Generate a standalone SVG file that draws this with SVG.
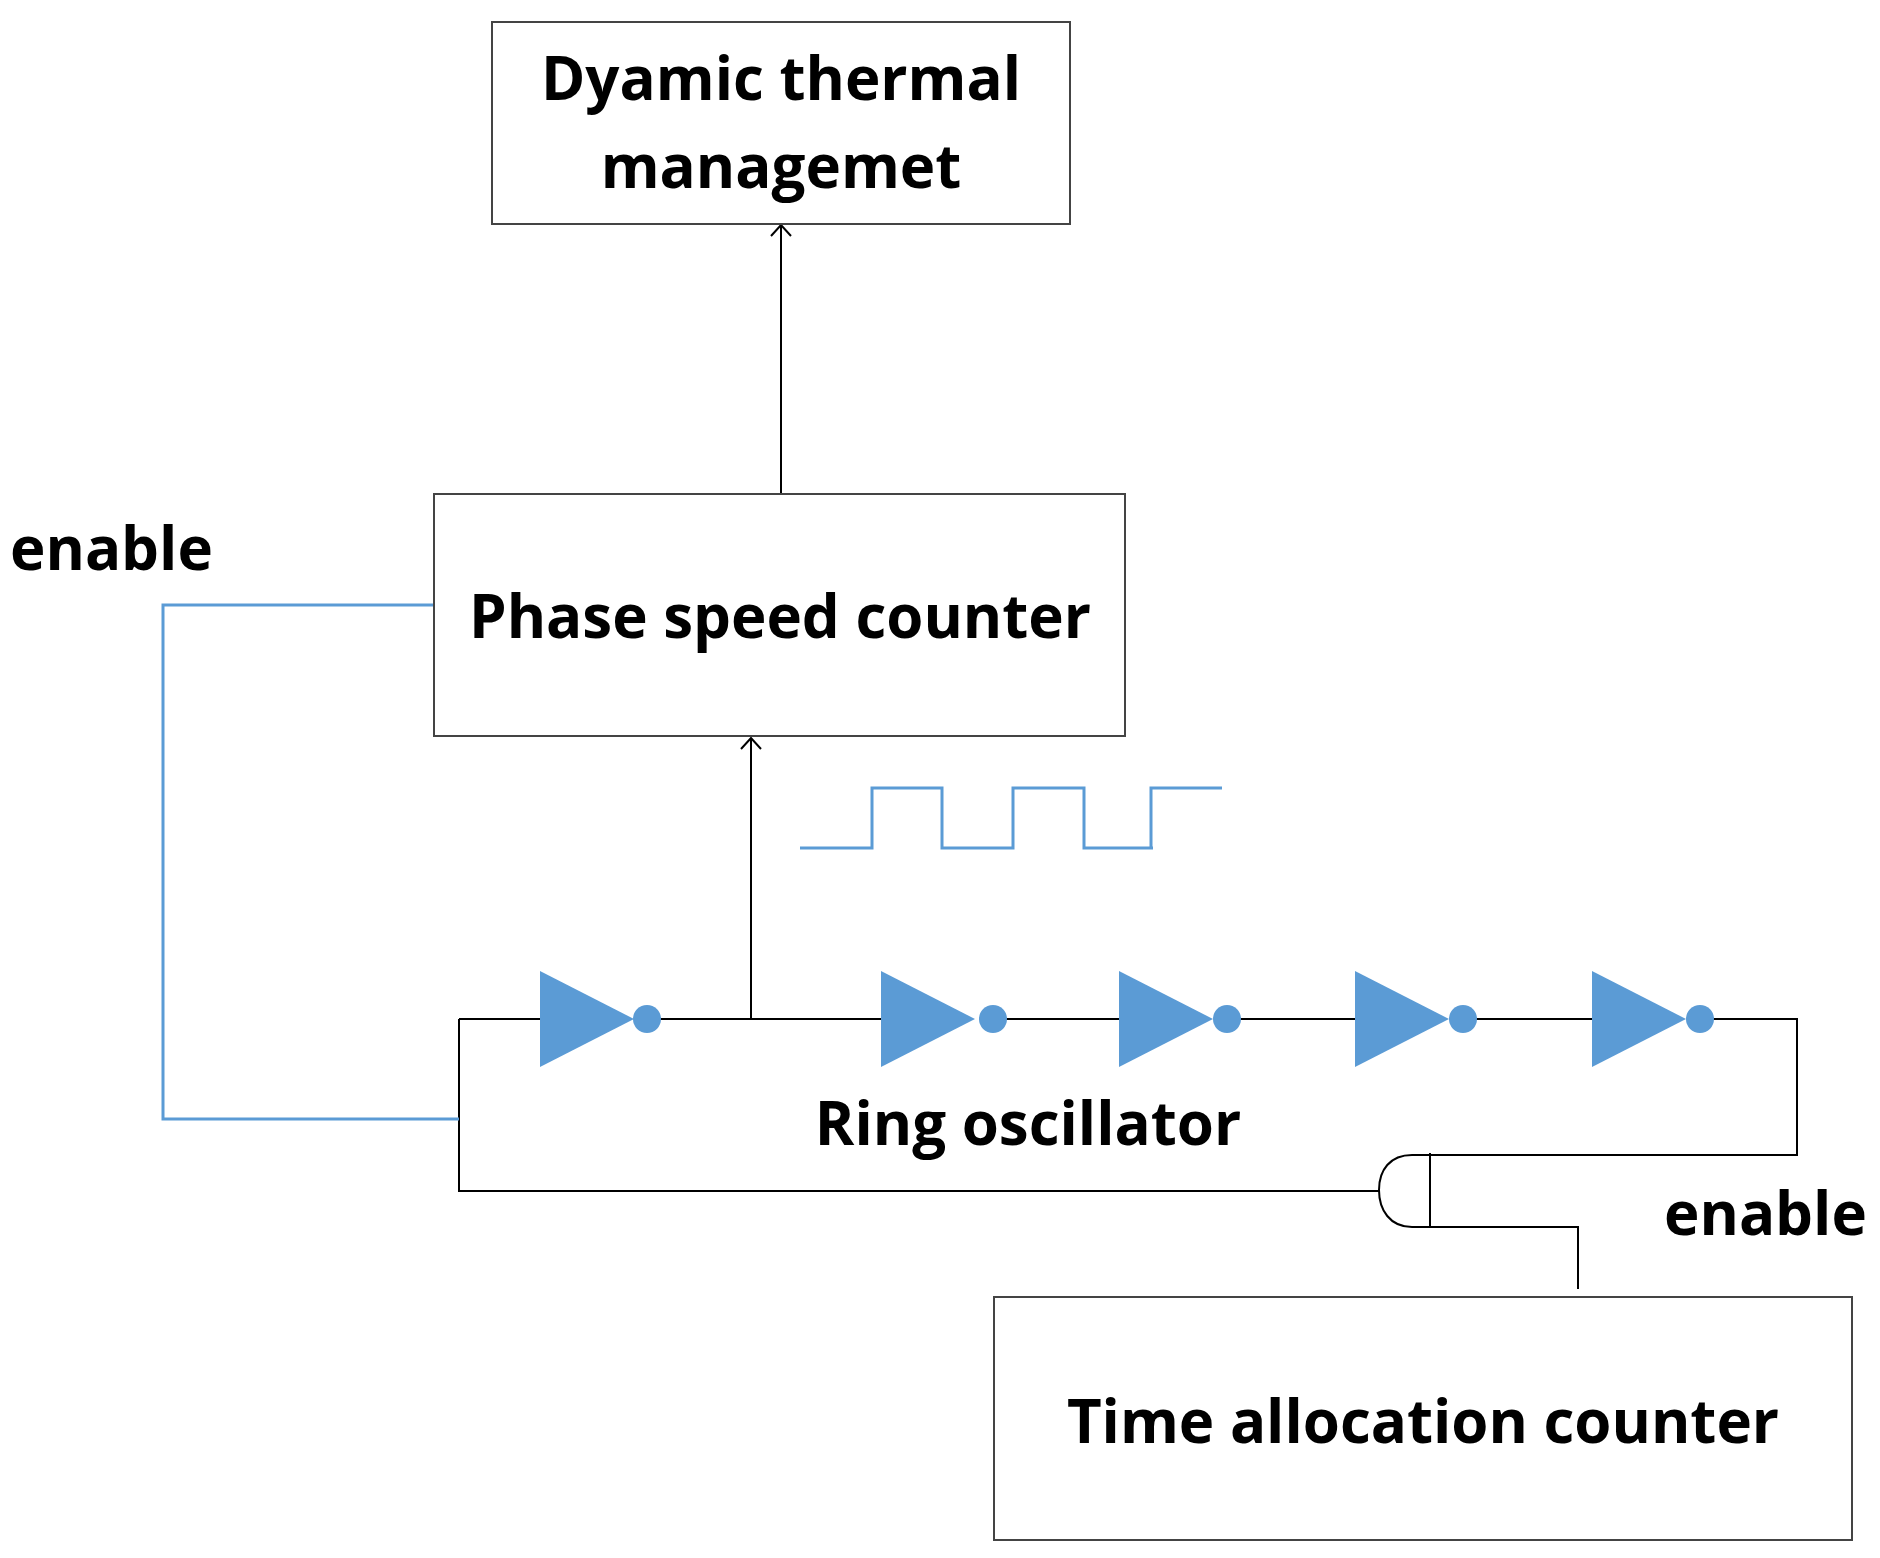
<svg xmlns="http://www.w3.org/2000/svg" width="1880" height="1558" viewBox="0 0 1880 1558">
<style>
.box{fill:#fff;stroke:#444;stroke-width:2}
.t{font-family:"Open Sans","Liberation Sans",sans-serif;font-weight:bold;font-size:60px;fill:#000}
.w{fill:none;stroke:#000;stroke-width:2}
.b{fill:none;stroke:#5b9bd5;stroke-width:3}
.inv{fill:#5b9bd5}
</style>
<defs><marker id="a" viewBox="0 0 20 20" refX="10" refY="2" markerWidth="20" markerHeight="20" markerUnits="userSpaceOnUse" orient="auto-start-reverse"><path d="M2,12 L10,2 L18,12" fill="none" stroke="#000" stroke-width="2"/></marker></defs>
<rect width="1880" height="1558" fill="#fff"/>
<g id="connectors">
<path class="w" d="M781,494 V226" marker-end="url(#a)" style="marker-end:none"/>
<path class="w" d="M781,494 V226"/>
<path class="w" d="M771,236 L781,225 L791,236"/>
<path class="w" d="M751,1019 V738"/>
<path class="w" d="M741,749 L751,738 L761,749"/>
<path class="w" d="M459,1019 H540 M459,1019 V1191 H1379"/>
<path class="w" d="M647,1019 H881 M993,1019 H1119 M1227,1019 H1355 M1463,1019 H1592 M1700,1019 H1797 V1155 H1430"/>
<path class="w" d="M1430,1227 H1578 V1289"/>
<path class="b" d="M434,605 H163 V1119 H459"/>
<path class="b" d="M800,848 H872 V788 H942 V848 H1013 V788 H1084 V848 H1153 M1151,848 V788 H1222"/>
</g>
<g id="dtm"><rect class="box" x="492" y="22" width="578" height="202"/>
<text class="t" x="781" y="100" text-anchor="middle">Dyamic thermal</text>
<text class="t" x="781" y="188" text-anchor="middle">managemet</text></g>
<g id="psc"><rect class="box" x="434" y="494" width="691" height="242"/>
<text class="t" x="780" y="638" text-anchor="middle">Phase speed counter</text></g>
<g id="enable1"><text class="t" x="10" y="570">enable</text></g>
<g id="ring">
<path class="inv" d="M540,971 L634,1019 L540,1067Z"/><circle class="inv" cx="647" cy="1019" r="14"/>
<path class="inv" d="M881,971 L975,1019 L881,1067Z"/><circle class="inv" cx="993" cy="1019" r="14"/>
<path class="inv" d="M1119,971 L1213,1019 L1119,1067Z"/><circle class="inv" cx="1227" cy="1019" r="14"/>
<path class="inv" d="M1355,971 L1449,1019 L1355,1067Z"/><circle class="inv" cx="1463" cy="1019" r="14"/>
<path class="inv" d="M1592,971 L1686,1019 L1592,1067Z"/><circle class="inv" cx="1700" cy="1019" r="14"/>
<text class="t" x="1028" y="1145" text-anchor="middle">Ring oscillator</text>
</g>
<g id="gate"><path class="w" d="M1430,1153 V1227 H1412 C1390,1227 1379,1210 1379,1190 C1379,1170 1390,1155 1412,1155 H1430"/></g>
<g id="enable2"><text class="t" x="1664" y="1235">enable</text></g>
<g id="tac"><rect class="box" x="994" y="1297" width="858" height="243"/>
<text class="t" x="1423" y="1443" text-anchor="middle">Time allocation counter</text></g>
</svg>
